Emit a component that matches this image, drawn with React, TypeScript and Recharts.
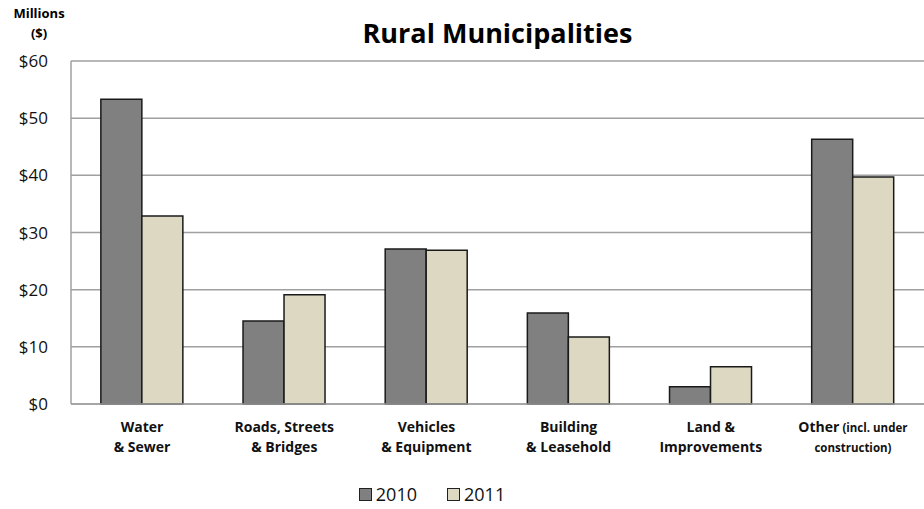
import { BarChart, Bar, XAxis, YAxis, CartesianGrid } from 'recharts'

const categories = ['water', 'roads', 'vehicles', 'building', 'land', 'other']
const labelLines: { text: string; small?: string }[][] = [
  [{ text: 'Water' }, { text: '& Sewer' }],
  [{ text: 'Roads, Streets' }, { text: '& Bridges' }],
  [{ text: 'Vehicles' }, { text: '& Equipment' }],
  [{ text: 'Building' }, { text: '& Leasehold' }],
  [{ text: 'Land &' }, { text: 'Improvements' }],
  [{ text: 'Other', small: ' (incl. under' }, { text: '', small: 'construction)' }],
]
const values2010 = [53.3, 14.5, 27.1, 15.9, 3.0, 46.3]
const values2011 = [32.9, 19.1, 26.9, 11.7, 6.5, 39.7]
const yTicks = [0, 10, 20, 30, 40, 50, 60]

const COLOR_2010 = '#808080'
const COLOR_2011 = '#ddd8c2'
const FONT = '"Open Sans", Lato, sans-serif'

const data = categories.map((c, i) => ({
  key: c,
  y2010: values2010[i],
  y2011: values2011[i],
}))

function CategoryTick({ x, y, payload }: any) {
  const lines = labelLines[payload.index] ?? []
  return (
    <g transform={`translate(${x},${y})`}>
      {lines.map((ln, i) => (
        <text
          key={i}
          x={0}
          y={20 + i * 20}
          textAnchor="middle"
          fontFamily={FONT}
          fontWeight="bold"
          fontSize={14}
          fill="#111"
        >
          {ln.text}
          {ln.small && <tspan fontSize={11.5}>{ln.small}</tspan>}
        </text>
      ))}
    </g>
  )
}

function LegendBox({ color, label, last }: { color: string; label: string; last?: boolean }) {
  return (
    <span style={{ display: 'inline-flex', alignItems: 'center', marginRight: last ? 0 : 30 }}>
      <span
        style={{
          width: 11,
          height: 11,
          background: color,
          border: '1px solid #222',
          marginRight: 4,
          display: 'inline-block',
        }}
      />
      {label}
    </span>
  )
}

export default function App() {
  return (
    <div style={{ position: 'absolute', left: 0, top: 0, width: 924, height: 509, background: '#fff' }}>
      <div
        style={{
          position: 'absolute',
          left: 9,
          top: 3,
          width: 60,
          textAlign: 'center',
          fontFamily: FONT,
          fontWeight: 'bold',
          fontSize: 13,
          lineHeight: '20px',
        }}
      >
        Millions
        <br />
        ($)
      </div>
      <div
        style={{
          position: 'absolute',
          left: 71,
          width: 853,
          top: 14,
          textAlign: 'center',
          fontFamily: FONT,
          fontWeight: 'bold',
          fontSize: 27,
        }}
      >
        Rural Municipalities
      </div>
      <BarChart
        width={924}
        height={509}
        data={data}
        margin={{ top: 61, right: 0, left: 0, bottom: 45 }}
        barCategoryGap="21%"
        barGap={0}
      >
        <CartesianGrid vertical={false} stroke="#a0a0a0" strokeWidth={1.5} />
        <YAxis
          type="number"
          domain={[0, 60]}
          ticks={yTicks}
          tickFormatter={(v: number) => `$${v}`}
          width={71}
          tick={{ fontSize: 17, fill: '#111', fontFamily: FONT }}
          tickLine={false}
          axisLine={{ stroke: '#a0a0a0', strokeWidth: 1.5 }}
          tickMargin={17}
        />
        <XAxis
          dataKey="key"
          tick={<CategoryTick />}
          tickLine={false}
          axisLine={{ stroke: '#a0a0a0', strokeWidth: 1.5 }}
          height={60}
          interval={0}
        />
        <Bar dataKey="y2010" fill={COLOR_2010} stroke="#1a1a1a" strokeWidth={1.5} isAnimationActive={false} />
        <Bar dataKey="y2011" fill={COLOR_2011} stroke="#1a1a1a" strokeWidth={1.5} isAnimationActive={false} />
      </BarChart>
      <div
        style={{
          position: 'absolute',
          left: 0,
          width: 864,
          top: 482,
          display: 'flex',
          justifyContent: 'center',
          fontFamily: FONT,
          fontSize: 18,
          color: '#111',
        }}
      >
        <LegendBox color={COLOR_2010} label="2010" />
        <LegendBox color={COLOR_2011} label="2011" last />
      </div>
    </div>
  )
}
